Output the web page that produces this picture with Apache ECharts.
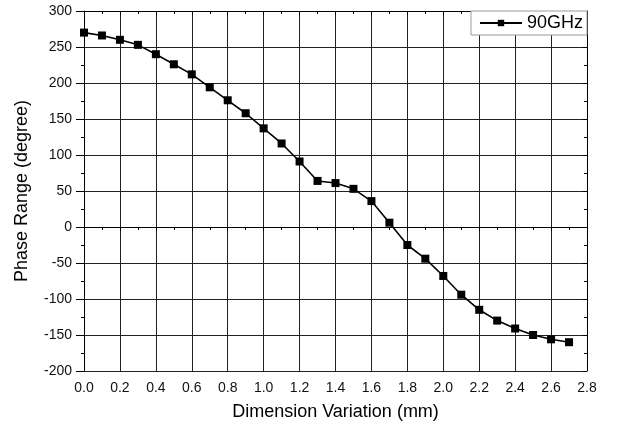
<!DOCTYPE html>
<html><head><meta charset="utf-8">
<script src="https://cdn.jsdelivr.net/npm/echarts@6/dist/echarts.min.js"></script>
<style>html,body{margin:0;padding:0;background:#fff}#c{width:622px;height:430px}</style>
</head><body><div id="c"></div>
<script>
const xValues = [0.0,0.1,0.2,0.3,0.4,0.5,0.6,0.7,0.8,0.9,1.0,1.1,1.2,1.3,1.4,1.5,1.6,1.7,1.8,1.9,2.0,2.1,2.2,2.3,2.4,2.5,2.6,2.7];
const phase90GHz = [270,266,260,253,240,226,212,194,176,158,137,116,91,64,61,53,36,6,-25,-44,-68,-94,-115,-130,-141,-150,-156,-160];
const seriesName = '90GHz';
const xTitle = 'Dimension Variation (mm)';
const yTitle = 'Phase Range (degree)';

const font = 'Liberation Sans, Arial, sans-serif';
const chart = echarts.init(document.getElementById('c'));
const data = xValues.map((x, i) => [x, phase90GHz[i]]);
const gridLine = {show: true, lineStyle: {color: '#222', width: 1}};
chart.setOption({
  animation: false,
  backgroundColor: '#fff',
  grid: {left: 84, right: 35, top: 11, bottom: 59, containLabel: false},
  legend: {
    right: 35, top: 11, padding: [3, 4, 3, 8],
    borderColor: '#999', borderWidth: 1, backgroundColor: '#fff',
    itemWidth: 42, itemHeight: 8, itemGap: 0,
    textStyle: {fontFamily: font, fontSize: 18, color: '#000'},
    data: [{name: seriesName}]
  },
  xAxis: [{
    type: 'value', min: 0, max: 2.8, interval: 0.2,
    name: xTitle, nameLocation: 'middle', nameGap: 32,
    nameTextStyle: {fontFamily: font, fontSize: 18, color: '#000'},
    axisLine: {show: true, lineStyle: {color: '#000', width: 1}},
    axisTick: {show: true, inside: false, length: 4, lineStyle: {color: '#000'}},
    minorTick: {show: true, splitNumber: 2, length: 3, lineStyle: {color: '#000'}},
    axisLabel: {fontFamily: font, fontSize: 14, color: '#111', margin: 10, formatter: v => v.toFixed(1)},
    splitLine: gridLine
  }, {
    type: 'value', min: 0, max: 2.8, interval: 0.2, position: 'top',
    axisLine: {show: true, onZero: false, lineStyle: {color: '#000', width: 1}},
    axisTick: {show: true, inside: true, length: 4, lineStyle: {color: '#000'}},
    minorTick: {show: true, splitNumber: 2, length: 3, lineStyle: {color: '#000'}},
    axisLabel: {show: false}, splitLine: {show: false}
  }],
  yAxis: [{
    type: 'value', min: -200, max: 300, interval: 50,
    name: yTitle, nameLocation: 'middle', nameGap: 53, nameRotate: 90,
    nameTextStyle: {fontFamily: font, fontSize: 18, color: '#000'},
    axisLine: {show: true, onZero: false, lineStyle: {color: '#000', width: 1}},
    axisTick: {show: true, inside: false, length: 8, lineStyle: {color: '#000'}},
    minorTick: {show: true, splitNumber: 2, length: 3, lineStyle: {color: '#000'}},
    axisLabel: {fontFamily: font, fontSize: 14, color: '#111', margin: 12},
    splitLine: gridLine
  }, {
    type: 'value', min: -200, max: 300, interval: 50, position: 'right',
    axisLine: {show: true, onZero: false, lineStyle: {color: '#000', width: 1}},
    axisTick: {show: true, inside: true, length: 4, lineStyle: {color: '#000'}},
    minorTick: {show: true, splitNumber: 2, length: 3, lineStyle: {color: '#000'}},
    axisLabel: {show: false}, splitLine: {show: false}
  }],
  series: [{
    name: seriesName, type: 'line', data: data,
    symbol: 'rect', symbolSize: 8, showAllSymbol: true,
    lineStyle: {color: '#000', width: 1.6},
    itemStyle: {color: '#000'}
  }]
});
</script></body></html>
